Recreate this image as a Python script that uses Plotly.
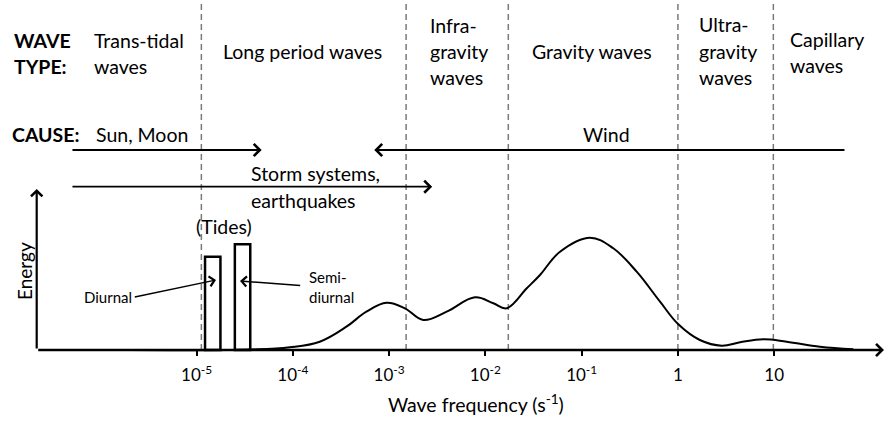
import numpy as np
import plotly.graph_objects as go

W, H = 886, 421

# ---------------- data ----------------
curve_freq = [2.0e-6, 3.6e-5, 9.3e-5, 1.9e-4, 3.6e-4, 5.8e-4, 9.4e-4, 1.46e-3,
              2.26e-3, 3.96e-3, 7.8e-3, 0.0121, 0.0166, 0.0269, 0.0369, 0.0596,
              0.122, 0.213, 0.373, 0.652, 1.01, 1.69, 2.85, 4.42, 7.71, 13.5,
              29.9, 66.4]
curve_energy = [0, 0.5, 2.7, 8.3, 23.3, 38.3, 47.3, 41.7, 30, 38.3, 52.7, 46.7,
                41.7, 61.7, 75, 98.3, 112.3, 101.7, 78.3, 48.3, 25.7, 10, 4.3,
                7.7, 10.7, 8.3, 3.3, 0.7]

tide_names = ["Diurnal", "Semi-diurnal"]
tide_freq = [1.47e-5, 3.0e-5]
tide_energy = [93.3, 105.7]

boundary_freq = [1.12e-5, 1.5e-3, 0.0173, 1.0, 9.8]

tick_exponents = [-5, -4, -3, -2, -1, 0, 1]
tick_labels = ["10<sup>-5</sup>", "10<sup>-4</sup>", "10<sup>-3</sup>",
               "10<sup>-2</sup>", "10<sup>-1</sup>", "1", "10"]

cause_names = ["Sun, Moon", "Storm systems, earthquakes", "Wind"]
cause_from = [4.95e-7, 4.95e-7, 55.7]
cause_to = [4.74e-5, 2.8e-3, 7.0e-4]

# ---------------- layout helpers (pixel geometry) ----------------
PX_PER_DEC = 96.26
PX_AT_1E_2 = 485.4
BASE_PY = 350


def lgx(px):
    return -2 + (px - PX_AT_1E_2) / PX_PER_DEC


def ey(py):
    return BASE_PY - py


def pp(px, py):
    return px / W, 1 - py / H


FONT = "Lato"
BIG = 19.5
fig = go.Figure()

fig.add_trace(go.Scatter(
    x=np.log10(curve_freq), y=curve_energy, mode="lines",
    line=dict(color="black", width=2, shape="spline", smoothing=1.1),
    hoverinfo="skip", showlegend=False))

fig.add_trace(go.Bar(
    x=np.log10(tide_freq), y=tide_energy, width=0.16, name="Tides",
    marker=dict(color="white", line=dict(color="black", width=2.5)),
    hoverinfo="skip", showlegend=False))

shapes = []
for f in boundary_freq:
    shapes.append(dict(type="line", xref="x", yref="y", x0=np.log10(f), x1=np.log10(f),
                       y0=0, y1=ey(0), layer="below",
                       line=dict(color="#7a7a7a", width=1.5, dash="6px,4px")))

ann = []


def text(t, px, py, xanchor="left", size=BIG, bold=False, angle=0, color="black"):
    x, y = pp(px, py)
    if bold:
        t = "<b>" + t + "</b>"
    ann.append(dict(text=t, x=x, y=y, xref="paper", yref="paper", xanchor=xanchor,
                    yanchor="middle", showarrow=False, textangle=angle,
                    font=dict(family=FONT, size=size, color=color)))


def arrow(x_tail, y_tail, x_tip, y_tip, width=1.8, size=1.2, head=4):
    ann.append(dict(text="", x=x_tip, y=y_tip, ax=x_tail, ay=y_tail,
                    xref="x", yref="y", axref="x", ayref="y", showarrow=True,
                    arrowhead=head, arrowsize=size, arrowwidth=width,
                    arrowcolor="black", standoff=0, startstandoff=0))


# axes drawn as arrows
arrow(lgx(36.7), ey(350), lgx(884), ey(350), width=2.6, size=0.9)
arrow(lgx(36.7), ey(350), lgx(36.7), ey(189), width=2.2, size=1.0)

# cause arrows
cause_py = [150, 186.7, 150]
for f0, f1, py in zip(cause_from, cause_to, cause_py):
    arrow(np.log10(f0), ey(py), np.log10(f1), ey(py), width=1.8, size=1.3)

# tide pointer arrows
arrow(lgx(133.3), ey(297.3), lgx(216), ey(280), width=1.5, size=1.3)
arrow(lgx(301.7), ey(285.7), lgx(240), ey(281), width=1.5, size=1.3)

# wave type labels
text("WAVE", 12, 41, bold=True)
text("TYPE:", 12, 67, bold=True)
text("Trans-tidal", 92, 41)
text("waves", 92, 67)
text("Long period waves", 302, 52, xanchor="center")
text("Infra-", 428, 26)
text("gravity", 428, 52)
text("waves", 428, 78)
text("Gravity waves", 592, 52, xanchor="center")
text("Ultra-", 697, 25)
text("gravity", 697, 52)
text("waves", 697, 78)
text("Capillary", 788, 40)
text("waves", 788, 66)

# causes
text("CAUSE:", 10, 135, bold=True)
text(cause_names[0], 94, 135)
text(cause_names[2], 606, 135, xanchor="center")
text("Storm systems,", 249, 173.5)
text("earthquakes", 249, 200)

# tides
text("(Tides)", 224, 226, xanchor="center")
text("Diurnal", 82, 297, size=15)
text("Semi-", 307, 277, size=15)
text("diurnal", 307, 297, size=15)

# axis titles
text("Energy", 24, 271, xanchor="center", angle=-90, size=19)
text("Wave frequency (s<sup>-1</sup>)", 476, 403, xanchor="center")

fig.update_layout(
    width=W, height=H, margin=dict(l=0, r=0, t=0, b=0),
    paper_bgcolor="white", plot_bgcolor="white",
    shapes=shapes, annotations=ann, showlegend=False,
    xaxis=dict(range=[lgx(0), lgx(W)], domain=[0, 1], anchor="free",
               position=1 - BASE_PY / H, showline=False, showgrid=False,
               zeroline=False, tickvals=tick_exponents, ticktext=tick_labels,
               ticks="outside", ticklen=5, tickwidth=2, tickcolor="black",
               ticklabelstandoff=5,
               tickfont=dict(family=FONT, size=17, color="black")),
    yaxis=dict(range=[ey(H), ey(0)], domain=[0, 1], visible=False),
)

fig.write_html("out.html")
